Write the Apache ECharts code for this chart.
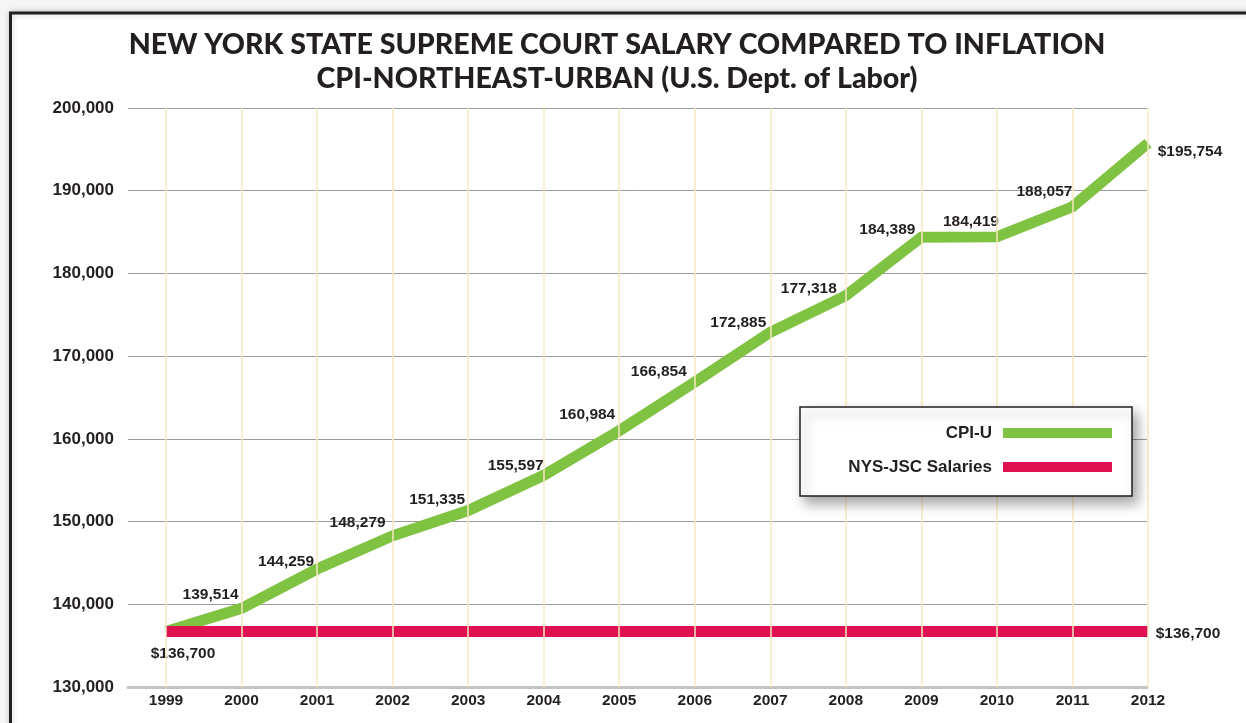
<!DOCTYPE html>
<html>
<head>
<meta charset="utf-8">
<script src="https://cdn.jsdelivr.net/npm/echarts@6/dist/echarts.min.js"></script>
<style>
  html, body { margin: 0; padding: 0; }
  #chart { width: 1246px; height: 723px; }
</style>
</head>
<body>
<div id="chart"></div>
<script>
  // data
  const years = ['1999', '2000', '2001', '2002', '2003', '2004', '2005', '2006', '2007', '2008', '2009', '2010', '2011', '2012'];
  const cpiValues = [136700, 139514, 144259, 148279, 151335, 155597, 160984, 166854, 172885, 177318, 184389, 184419, 188057, 195754];
  const salaryValues = [136700, 136700, 136700, 136700, 136700, 136700, 136700, 136700, 136700, 136700, 136700, 136700, 136700, 136700];
  const yTicks = { min: 130000, max: 200000, step: 10000 };

  // label offsets (px) from each point
  const cpiLabelOffsets = [null, [-31, -14], [-31, -7], [-35, -13], [-31, -11], [-28, -10], [-32, -16], [-36, -10], [-32, -10], [-37, -7], [-34, -7], [-26, -15], [-28, -15], [42, 9]];
  const salaryLabelOffsets = { 0: [17, 22], 13: [40, 2] };

  const green = '#80c342';
  const red = '#e01150';
  const ink = '#231f20';
  const font = '"Liberation Sans", Arial, sans-serif';

  const fmt = (v) => String(v).replace(/\B(?=(\d{3})+(?!\d))/g, ',');

  const chart = echarts.init(document.getElementById('chart'));

  const cpiData = cpiValues.map((v, i) => ({
    value: v,
    label: cpiLabelOffsets[i] ? { show: true, offset: cpiLabelOffsets[i] } : { show: false },
  }));
  const salaryData = salaryValues.map((v, i) => ({
    value: v,
    label: salaryLabelOffsets[i] ? { show: true, offset: salaryLabelOffsets[i] } : { show: false },
  }));

  const labelStyle = {
    position: 'inside',
    fontFamily: font,
    fontWeight: 'bold',
    fontSize: 15.5,
    color: ink,
  };

  const legendText = { fontFamily: font, fontWeight: 'bold', fontSize: 17, lineHeight: 20, color: ink, padding: [0, 6, 0, 0] };

  const option = {
    backgroundColor: '#f6f6f6',
    animation: false,
    title: {
      text: 'NEW YORK STATE SUPREME COURT SALARY COMPARED TO INFLATION\nCPI-NORTHEAST-URBAN (U.S. Dept. of Labor)',
      left: 617,
      top: 28,
      padding: 0,
      textAlign: 'center',
      textStyle: {
        fontFamily: 'Lato, "Open Sans", sans-serif',
        fontWeight: 900,
        fontSize: 28.6,
        lineHeight: 34,
        color: ink,
        align: 'center',
      },
    },
    graphic: [
      {
        type: 'rect',
        z: -10,
        shape: { x: 10.5, y: 13, width: 1300, height: 800 },
        style: { fill: '#fff', stroke: ink, lineWidth: 3, shadowBlur: 6, shadowColor: 'rgba(0,0,0,0.2)' },
      },
      {
        type: 'rect',
        z: 6,
        shape: { x: 800, y: 407, width: 332, height: 89 },
        style: {
          fill: '#fff', stroke: ink, lineWidth: 1.5,
          shadowBlur: 12, shadowOffsetX: 5, shadowOffsetY: 7, shadowColor: 'rgba(0,0,0,0.35)',
        },
      },
    ],
    legend: [
      {
        data: ['CPI-U'],
        right: 134, top: 423, padding: 0, z: 7,
        align: 'right', icon: 'rect', itemWidth: 109, itemHeight: 10,
        textStyle: legendText,
        selectedMode: false,
      },
      {
        data: ['NYS-JSC Salaries'],
        right: 134, top: 457, padding: 0, z: 7,
        align: 'right', icon: 'rect', itemWidth: 109, itemHeight: 10,
        textStyle: legendText,
        selectedMode: false,
      },
    ],
    grid: [
      { left: 128, right: 99, top: 108, bottom: 36 },
      { left: 166, right: 98, top: 108, bottom: 36 },
    ],
    xAxis: [
      {
        gridIndex: 0,
        type: 'value',
        min: 0,
        max: 1,
        axisLine: { show: true, lineStyle: { color: '#c4c4c4', width: 3 } },
        axisTick: { show: false },
        axisLabel: { show: false },
        splitLine: { show: false },
      },
      {
        gridIndex: 1,
        type: 'category',
        data: years,
        boundaryGap: false,
        z: 5,
        axisLine: { show: false },
        axisTick: { show: false },
        axisLabel: { fontFamily: font, fontWeight: 'bold', fontSize: 15.5, color: ink, margin: 6 },
        splitLine: { show: true, lineStyle: { color: '#f6e8c0', width: 1.5 } },
      },
    ],
    yAxis: [
      {
        gridIndex: 0,
        type: 'value',
        min: yTicks.min,
        max: yTicks.max,
        interval: yTicks.step,
        axisLine: { show: false },
        axisTick: { show: false },
        axisLabel: { fontFamily: font, fontWeight: 'bold', fontSize: 17, color: ink, margin: 14, formatter: fmt },
        splitLine: { show: true, lineStyle: { color: '#9a9a9a', width: 1 } },
      },
      {
        gridIndex: 1,
        type: 'value',
        min: yTicks.min,
        max: yTicks.max,
        interval: yTicks.step,
        show: false,
        splitLine: { show: false },
      },
    ],
    series: [
      {
        name: 'CPI-U',
        type: 'line',
        xAxisIndex: 1,
        yAxisIndex: 1,
        clip: false,
        data: cpiData,
        symbol: 'circle',
        symbolSize: 1,
        itemStyle: { color: green },
        lineStyle: { color: green, width: 11, cap: 'butt', join: 'miter' },
        label: { ...labelStyle, formatter: (p) => (p.dataIndex === cpiValues.length - 1 ? '$' : '') + fmt(p.value) },
        emphasis: { disabled: true },
      },
      {
        name: 'NYS-JSC Salaries',
        type: 'line',
        xAxisIndex: 1,
        yAxisIndex: 1,
        clip: false,
        data: salaryData,
        symbol: 'circle',
        symbolSize: 1,
        itemStyle: { color: red },
        lineStyle: { color: red, width: 11, cap: 'butt' },
        label: { ...labelStyle, formatter: (p) => '$' + fmt(p.value) },
        emphasis: { disabled: true },
      },
    ],
  };

  chart.setOption(option);
</script>
</body>
</html>
